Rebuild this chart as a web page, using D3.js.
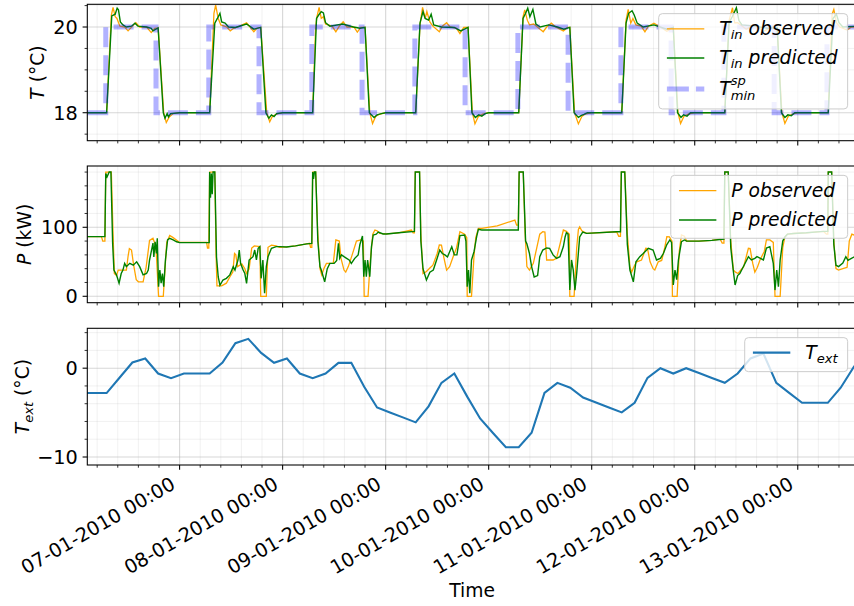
<!DOCTYPE html>
<html><head><meta charset="utf-8">
<script src="https://cdn.jsdelivr.net/npm/d3@7"></script>
<style>
body{margin:0;background:#fff}
svg{display:block}
text{font-family:"DejaVu Sans",sans-serif;fill:#000}
</style>
</head><body>
<svg id="chart" width="854" height="606"></svg>
<script>
// ---------------- DATA (hours since 06-01-2010 00:00) ----------------
const tinObserved = [
 [2.5,18],[7.0,18],[8.1,20.28],[8.5,20.46],[9.0,20.24],[9.4,20.2],[10.1,20.02],[11.2,20.0],[12.0,19.91],[13.0,20.02],[13.8,20.1],[14.7,20.0],[16.3,20.0],[17.4,19.87],[18.2,19.97],[19.0,19.98],[20.3,18.0],[20.9,17.77],[21.6,17.9],[22.5,17.98],[24.0,18.0],
 [31.0,18],[32.0,20.32],[32.4,20.51],[33.0,20.2],[33.6,20.05],[35.0,20.0],[35.8,19.91],[36.6,19.97],[38.0,20.02],[39.6,20.1],[40.4,20.0],[41.3,19.89],[42.0,19.97],[42.9,19.99],[44.3,18.0],[45.0,17.79],[45.6,17.91],[46.6,17.97],[48.0,18.0],
 [55.0,18],[55.7,20.0],[56.0,20.24],[56.5,20.46],[57.0,20.2],[57.5,20.24],[58.0,20.07],[59.5,20.02],[60.4,19.89],[61.2,20.02],[62.1,20.12],[63.0,20.0],[64.6,20.0],[65.4,19.88],[66.2,19.99],[67.2,19.99],[68.3,18.0],[68.95,17.75],[69.7,17.92],[70.7,17.97],[72.0,18.0],
 [79.0,18],[80.0,20.05],[80.6,20.46],[81.2,20.2],[81.6,20.36],[82.3,20.12],[83.0,20.02],[84.5,19.89],[85.2,20.02],[86.2,20.1],[87.0,20.0],[88.5,19.97],[89.3,19.85],[90.2,19.99],[91.2,19.99],[92.2,18.0],[92.8,17.74],[93.6,17.91],[94.6,17.97],[96.0,18.0],
 [103.0,18],[104.0,20.24],[104.4,20.4],[105.0,20.16],[105.5,20.05],[106.5,20.07],[107.5,19.99],[108.7,19.89],[109.5,20.0],[110.6,20.09],[111.6,20.0],[113.4,19.91],[114.4,19.99],[114.9,19.99],[116.0,18.0],[116.9,17.74],[117.7,17.91],[118.5,17.97],[120.0,18.0],
 [127.0,18],[128.0,20.16],[128.5,20.41],[129.1,20.09],[129.6,20.2],[130.3,20.05],[131.5,20.02],[132.4,19.89],[133.2,20.02],[134.5,20.09],[136.0,20.0],[137.5,19.9],[139.0,19.99],[140.1,18.0],[140.7,17.75],[141.5,17.92],[142.5,17.97],[144.0,18.0],
 [151.0,18],[152.0,20.15],[152.8,20.45],[153.3,20.1],[154.0,20.1],[156.0,19.95],[158.0,20.05],[160.0,19.9],[162.0,20.0],[163.2,19.99],[164.3,18.0],[165.0,17.75],[165.8,17.92],[166.8,17.97],[168.0,18.0],
 [175.1,18],[176.0,20.3],[176.4,20.41],[177.0,20.1],[177.8,20.0],[179.5,19.93],[180.5,20.0],[182.0,20.0]
];
const tinPredicted = [
 [2.5,18],[7.0,18],[8.2,20.26],[9.0,20.3],[9.45,20.44],[9.76,20.4],[10.2,20.12],[10.8,20.05],[11.6,20.0],[12.8,20.02],[13.6,20.09],[14.3,20.02],[16.3,20.0],[17.4,19.97],[17.8,19.91],[19.0,19.98],[20.2,18.0],[20.6,17.87],[21.1,17.98],[21.4,17.9],[21.9,17.98],[24.0,18.0],
 [31.0,18],[32.2,20.09],[32.8,20.2],[33.4,20.32],[33.8,20.12],[34.6,20.09],[35.4,20.0],[37.0,19.99],[39.6,20.07],[41.3,19.95],[42.9,19.99],[44.1,18.0],[44.8,17.87],[45.4,17.95],[46.0,17.91],[46.6,17.98],[48.0,18.0],
 [55.0,18],[55.9,20.2],[56.4,20.28],[57.0,20.36],[57.5,20.33],[58.0,20.1],[59.0,20.02],[62.0,20.07],[64.5,20.0],[66.0,19.97],[67.2,19.99],[68.2,18.0],[69.3,17.89],[70.0,17.95],[71.0,17.98],[72.0,18.0],
 [79.0,18],[80.0,20.09],[80.7,20.36],[81.2,20.2],[82.0,20.16],[82.6,20.3],[83.2,20.05],[85.0,20.0],[88.0,19.99],[89.5,19.91],[91.2,19.99],[92.1,18.0],[92.9,17.89],[93.7,17.95],[94.4,17.92],[95.2,17.98],[96.0,18.0],
 [103.0,18],[104.0,20.2],[104.6,20.32],[105.1,20.44],[105.6,20.24],[106.3,20.41],[107.0,20.07],[108.0,20.0],[110.0,20.05],[112.0,20.0],[113.5,19.95],[114.9,19.99],[115.9,18.0],[116.9,17.89],[117.5,17.93],[118.2,17.96],[119.0,18.0],
 [127.0,18],[128.0,20.09],[128.6,20.32],[129.4,20.38],[129.9,20.28],[130.6,20.09],[132.0,20.0],[134.5,20.05],[137.5,19.95],[139.0,19.99],[140.0,18.0],[140.8,17.89],[141.4,17.95],[142.2,17.92],[143.0,18.0],
 [151.0,18],[152.0,20.1],[152.8,20.25],[153.7,20.45],[154.3,20.15],[155.0,20.05],[158.0,20.02],[161.0,19.97],[163.2,19.99],[164.2,18.0],[165.0,17.89],[165.7,17.95],[166.5,17.93],[167.3,18.0],
 [175.1,18],[176.2,20.2],[177.0,20.3],[177.6,20.1],[178.5,20.0],[182.0,20.02]
];
const spHours  = [2.5,6.8,18.5,30.8,42.5,54.8,66.5,78.8,90.5,102.8,114.5,126.8,138.5,150.8,162.5,174.8,182];
const spValues = [18, 20, 18,  20,  18,  20,  18,  20,  18,  20,   18,   20,   18,   20,   18,   20,   20];

const pObserved = [
 [2.5,86.4],[5.8,86.4],[6.1,80],[6.6,80],[6.8,180],[8.1,180],[8.5,90],[8.8,33],[9.3,30],[9.7,38],[11.6,38],[12.0,58],[12.3,69],[12.8,67],[13.3,45],[13.9,24],[14.4,21],[15.5,21],[16.2,42],[17.0,81],[17.8,84],[18.5,72],[19.1,0],[20.2,0],[21.0,78],[21.7,88],[22.5,85],[24.0,78],[30.3,78],[30.5,70],[30.8,70],
 [31.0,180],[32.2,180],[32.5,60],[32.7,15],[33.8,15],[34.9,19],[35.7,28],[36.4,35],[36.8,62],[37.1,60],[37.5,43],[38.5,47],[39.2,40],[39.6,33],[40.2,40],[40.8,70],[41.4,73],[42.7,72],[42.9,0],[44.2,0],[44.6,71],[45.4,74],[46.5,73],[47.3,71],[48.9,71.5],[51.0,73],[53.6,76],[54.3,76.7],[54.5,71],[54.8,71],
 [55.0,180],[55.7,180],[56.2,90],[56.7,40],[57.1,31],[57.6,40],[58.2,47.7],[59.8,47.7],[60.4,81.6],[61.2,80],[61.6,55],[62.3,38],[62.7,35],[63.3,43],[64.2,60],[65.2,80],[66.4,82],[66.8,80],[67.0,0],[67.9,0],[68.4,50],[69.0,90],[69.5,96],[70.0,95],[70.6,91.2],[72.2,90.3],[75.0,92],[78.0,96],[78.4,92],[78.7,92],
 [78.9,180],[79.9,180],[80.2,90],[80.7,33],[81.5,36],[82.3,41],[83.0,45],[84.0,62],[84.5,74.3],[85.0,74],[85.6,55],[86.2,38],[86.9,43],[87.7,57],[88.5,70],[89.3,93.6],[90.4,90],[90.9,85],[91.0,0],[92.0,0],[92.6,60],[93.0,85],[93.6,98.5],[94.4,98.5],[98.0,102],[102.1,110.5],[102.5,103],[102.9,103],
 [103.1,180],[104.05,180],[104.5,90],[104.9,43],[105.5,38],[106.4,47.7],[107.2,70],[107.9,90],[108.6,93.6],[109.1,93],[109.5,52.6],[111.0,52.6],[111.8,55],[112.6,75],[113.4,96],[114.1,94],[114.8,90],[114.9,0],[115.9,0],[116.5,70],[116.9,97],[117.2,100.5],[117.7,95],[118.8,91.2],[125.8,93.5],[126.3,87],[126.7,87],
 [126.9,180],[127.7,180],[128.3,90],[128.9,43],[129.3,35],[130.0,45],[130.5,50],[131.6,52.6],[132.6,69.5],[133.0,69],[133.6,50],[134.3,40],[134.7,38],[135.5,50],[136.3,52],[137.0,70],[137.5,86.4],[138.1,86],[138.7,80],[138.8,0],[139.9,0],[140.4,65],[140.9,89],[141.6,87],[142.1,80],[145.0,80],[148.0,81],[149.9,83],[150.4,77],[150.8,77],
 [151.0,180],[151.8,180],[152.4,80],[153.0,38],[153.5,35],[154.1,33],[154.6,37],[155.4,43],[156.5,69.5],[156.9,69],[157.5,48],[158.0,35],[158.6,42],[159.2,52.6],[160.2,65],[160.7,81.6],[161.5,81.6],[162.3,78],[162.7,0],[163.9,0],[164.5,70],[165.0,86],[165.6,90],[167.0,91],[170.0,92],[174.0,94],[174.7,90],[175.0,90],
 [175.1,180],[175.9,180],[176.4,80],[176.9,40],[177.5,38],[178.5,40],[179.5,42],[180.0,80],[180.6,90],[181.5,88],[184.0,88]
];
const pPredicted = [
 [2.5,86.4],[6.6,86.4],[6.8,178],[7.1,173],[7.6,180],[8.0,180],[8.4,77],[8.7,38],[9.3,31],[9.9,19],[10.4,33],[10.8,38],[11.2,47.7],[11.6,42.9],[12.4,47.7],[13.2,45],[14.0,50],[14.7,42.9],[15.5,31],[16.3,33],[16.7,38],[17.0,52.6],[17.8,77],[18.0,57],[18.3,79],[18.6,62],[18.8,84],[19.1,14],[19.4,38],[19.7,19],[20.0,33],[20.3,14],[20.7,52.6],[21.2,81.6],[21.7,84],[22.5,81.6],[23.3,79],[24.0,77.7],[30.9,77.7],
 [31.0,180],[31.2,143],[31.4,178],[31.6,148],[31.8,180],[32.2,180],[32.6,57],[33.0,28],[33.4,16],[34.1,23.6],[34.9,26],[35.7,31],[36.5,43],[36.9,38],[37.6,52.6],[37.9,67],[38.2,47.7],[38.8,38],[39.2,33],[39.6,18.8],[40.2,52.6],[41.1,57.4],[41.5,67],[41.9,52.6],[42.3,69.5],[42.7,71.9],[43.0,26],[43.4,52.6],[43.8,4.3],[44.2,43],[44.6,57.4],[45.4,69.5],[46.5,71.9],[47.3,72],[48.9,71.5],[51.0,73],[53.6,76],[54.8,76.7],
 [55.0,180],[55.2,170],[55.4,180],[55.7,180],[56.2,80],[56.7,43],[57.0,38],[57.8,21],[58.4,40],[59.0,47.7],[60.0,47.7],[60.6,52],[61.0,76.7],[61.3,55],[61.7,60],[62.3,57.4],[62.9,55],[63.5,52.6],[64.0,47.7],[64.8,55],[65.6,60],[66.0,75],[66.6,87.4],[66.9,28.4],[67.2,52.6],[67.5,28.4],[67.8,52.6],[68.3,28.4],[68.7,72],[69.1,88.8],[69.8,90],[70.3,93],[71.4,90.3],[72.2,90.3],[75.0,92],[78.7,94],
 [78.9,180],[79.9,180],[80.2,80],[80.7,40],[81.5,23.6],[82.3,35],[83.1,38],[84.0,55],[84.6,67],[85.2,62],[85.8,60],[86.4,57],[87.4,71.9],[88.0,60],[88.6,60],[89.3,88],[90.4,88.7],[90.7,80],[91.0,14],[91.3,38],[91.6,4.3],[92.0,52.6],[92.6,65],[93.2,86.4],[93.6,97],[94.4,96.1],[98.0,96.1],[102.9,96.1],
 [103.1,180],[104.05,180],[104.6,80],[104.9,76],[105.5,62],[106.0,43],[106.6,28],[107.4,30],[107.9,57.4],[108.6,67],[109.5,70],[110.2,69.5],[111.0,60],[111.8,55],[112.6,57.4],[113.4,72],[113.8,86],[114.1,92],[114.5,90],[114.9,9],[115.3,52.6],[115.7,38],[116.1,9],[116.5,33],[117.2,86],[117.9,93],[118.8,91.2],[125.8,93.5],[126.7,93.5],
 [126.9,180],[127.7,180],[128.3,75],[128.9,38],[129.7,21],[130.3,50],[131.2,57.4],[132.0,62],[133.2,69.5],[134.3,67],[135.1,52.6],[136.0,55],[136.7,62],[137.5,75],[138.2,81.6],[138.6,78],[139.0,16.3],[139.4,38],[139.8,24],[140.2,52.6],[140.9,79],[141.6,81.6],[142.1,80],[145.0,80],[148.0,81],[150.8,83],
 [151.0,180],[151.8,180],[152.4,70],[153.0,36],[153.4,16.3],[154.0,30],[154.5,33],[155.5,45],[156.5,57.4],[157.2,52.6],[158.0,55],[158.5,57.4],[159.3,55],[160.0,52.6],[160.7,70],[161.5,72],[162.3,47.7],[162.7,9],[163.1,38],[163.5,14],[163.9,52.6],[164.5,80],[165.0,86],[165.6,90],[167.0,91],[170.0,92],[174.0,94],[175.0,94],
 [175.1,180],[175.9,180],[176.4,75],[176.9,45],[177.5,43],[178.5,48],[179.2,57.4],[179.7,52],[180.5,55],[181.5,58],[184.0,60]
];

const textHours  = [1,4,7,10,13,16,19,22,25,28,31,34,37,40,43,46,49,52,55,58,61,64,67,70,73,76,79,82,85,88,91,94,97,100,103,106,109,112,115,118,121,124,127,130,133,136,139,142,145,148,151,154,157,160,163,166,169,172,175,178,181,184];
const textValues = [-2.8,-2.8,-2.8,-1.08,0.64,1.09,-0.6,-1.12,-0.6,-0.6,-0.6,0.64,2.81,3.3,1.72,0.6,1.09,-0.6,-1.12,-0.6,0.6,0.6,-2.1,-4.42,-4.98,-5.54,-6.1,-4.3,-1.65,-0.6,-3.2,-5.66,-7.3,-8.9,-8.9,-7.27,-2.78,-1.65,-2.2,-3.3,-3.86,-4.42,-4.98,-3.9,-1.09,0,-0.6,0,-0.55,-1.1,-1.65,-0.6,1.1,1.65,-1.65,-2.78,-3.9,-3.9,-3.9,-2.2,0.1,2.0];

const yTicksT = [18,20],   yMinorT = [17.5,18.5,19,19.5,20.5];
const yTicksP = [0,100],   yMinorP = [20,40,60,80,120,140,160,180];
const yTicksE = [-10,0],   yMinorE = [-8,-6,-4,-2,2,4];

// ---------------- LAYOUT ----------------
const FS = 18.7;      // labels / legend
const TFS = 19.3;     // tick labels
const L = 87.3, R = 857;
const base = Date.UTC(2010,0,6,0,0);
const toDate = h => new Date(base + h*3600e3);
const x = d3.scaleUtc().domain([toDate(2.5), toDate(181.8)]).range([L, R]);
const fmt = d3.utcFormat("%d-%m-%Y %H:%M");
const svg = d3.select("#chart");
const defs = svg.append("defs");

const panels = [
  {id:"a", y0:4.3,   y1:140.7, dom:[17.347,20.53], major:yTicksT, minor:yMinorT},
  {id:"b", y0:166,   y1:302.7, dom:[-9.3,188.8],   major:yTicksP, minor:yMinorP},
  {id:"c", y0:328.3, y1:465,   dom:[-10.9,4.49],   major:yTicksE, minor:yMinorE}
];

const majorX = x.ticks(d3.utcDay.every(1));
const minorX = [];
const dStart = Date.UTC(2010,0,6), dayMs = 86400e3;
for (let dd = 0; dd < 9; dd++) for (let k = 1; k < 5; k++) {
  const t = new Date(dStart + dd*dayMs + k*dayMs/5);
  if (t >= x.domain()[0] && t <= x.domain()[1]) minorX.push(t);
}

panels.forEach(p => {
  p.y = d3.scaleLinear().domain(p.dom).range([p.y1, p.y0]);
  defs.append("clipPath").attr("id","clip"+p.id).append("rect")
    .attr("x",L).attr("y",p.y0).attr("width",R-L).attr("height",p.y1-p.y0);
  const g = svg.append("g");
  g.selectAll(".mgx").data(minorX).join("line")
    .attr("x1",d=>x(d)).attr("x2",d=>x(d)).attr("y1",p.y0).attr("y2",p.y1)
    .attr("stroke","#b0b0b0").attr("stroke-opacity",0.22).attr("stroke-width",0.8);
  g.selectAll(".mgy").data(p.minor).join("line")
    .attr("x1",L).attr("x2",R).attr("y1",d=>p.y(d)).attr("y2",d=>p.y(d))
    .attr("stroke","#b0b0b0").attr("stroke-opacity",0.22).attr("stroke-width",0.8);
  g.selectAll(".Mgx").data(majorX).join("line")
    .attr("x1",d=>x(d)).attr("x2",d=>x(d)).attr("y1",p.y0).attr("y2",p.y1)
    .attr("stroke","#b0b0b0").attr("stroke-opacity",0.5).attr("stroke-width",1.1);
  g.selectAll(".Mgy").data(p.major).join("line")
    .attr("x1",L).attr("x2",R).attr("y1",d=>p.y(d)).attr("y2",d=>p.y(d))
    .attr("stroke","#b0b0b0").attr("stroke-opacity",0.5).attr("stroke-width",1.1);
  p.plot = svg.append("g").attr("clip-path","url(#clip"+p.id+")");
});

function lineOf(p, curve) {
  const l = d3.line().x(d=>x(toDate(d[0]))).y(d=>p.y(d[1]));
  if (curve) l.curve(curve);
  return l;
}
const [pa, pb, pc] = panels;
pa.plot.append("path").attr("d", lineOf(pa)(tinObserved)).attr("fill","none").attr("stroke","#ffa500").attr("stroke-width",1.3);
pa.plot.append("path").attr("d", lineOf(pa)(tinPredicted)).attr("fill","none").attr("stroke","#008000").attr("stroke-width",1.4);
const spData = spHours.map((h,i)=>[h, spValues[i]]);
pa.plot.append("path").attr("d", lineOf(pa, d3.curveStepAfter)(spData)).attr("fill","none")
  .attr("stroke","rgba(0,0,255,0.3)").attr("stroke-width",5).attr("stroke-dasharray","20,8");

pb.plot.append("path").attr("d", lineOf(pb)(pObserved)).attr("fill","none").attr("stroke","#ffa500").attr("stroke-width",1.3);
pb.plot.append("path").attr("d", lineOf(pb)(pPredicted)).attr("fill","none").attr("stroke","#008000").attr("stroke-width",1.4);

const extData = textHours.map((h,i)=>[h, textValues[i]]);
pc.plot.append("path").attr("d", lineOf(pc)(extData)).attr("fill","none").attr("stroke","#1f77b4").attr("stroke-width",2.1);

// spines, ticks, labels
panels.forEach(p => {
  const g = svg.append("g");
  g.append("rect").attr("x",L).attr("y",p.y0).attr("width",R-L).attr("height",p.y1-p.y0)
    .attr("fill","none").attr("stroke","#000").attr("stroke-width",1.07);
  g.selectAll(".tx").data(majorX).join("line")
    .attr("x1",d=>x(d)).attr("x2",d=>x(d)).attr("y1",p.y1).attr("y2",p.y1+4.7)
    .attr("stroke","#000").attr("stroke-width",1.07);
  g.selectAll(".mtx").data(minorX).join("line")
    .attr("x1",d=>x(d)).attr("x2",d=>x(d)).attr("y1",p.y1).attr("y2",p.y1+2.7)
    .attr("stroke","#000").attr("stroke-width",0.8);
  g.selectAll(".ty").data(p.major).join("line")
    .attr("x1",L-4.7).attr("x2",L).attr("y1",d=>p.y(d)).attr("y2",d=>p.y(d))
    .attr("stroke","#000").attr("stroke-width",1.07);
  g.selectAll(".mty").data(p.minor).join("line")
    .attr("x1",L-2.7).attr("x2",L).attr("y1",d=>p.y(d)).attr("y2",d=>p.y(d))
    .attr("stroke","#000").attr("stroke-width",0.8);
  g.selectAll(".tyl").data(p.major).join("text")
    .attr("x",L-9.4).attr("y",d=>p.y(d)).attr("dy","0.36em")
    .attr("text-anchor","end").attr("font-size",TFS)
    .text(d => d < 0 ? "\u2212" + Math.abs(d) : String(d));
});

// x tick labels (bottom panel)
svg.append("g").selectAll("text").data(majorX).join("text")
  .attr("font-size",TFS).attr("text-anchor","end")
  .attr("transform", d => `translate(${x(d)-3},${pc.y1+9.4+13.5}) rotate(-30)`)
  .text(d => fmt(d));

svg.append("text").attr("x",(L+R)/2).attr("y",597).attr("text-anchor","middle")
  .attr("font-size",FS).text("Time");

// math-like text helper
function mathText(parent, x0, y0, parts, attrs) {
  const t = parent.append("text").attr("x",x0).attr("y",y0).attr("font-size",FS);
  if (attrs) Object.entries(attrs).forEach(([k,v])=>t.attr(k,v));
  let shift = 0, lastW = 0;
  parts.forEach(pt => {
    const ts = t.append("tspan").text(pt.t);
    if (pt.it) ts.attr("font-style","italic");
    let target = 0;
    if (pt.sub) target = pt.deep ? 0.22*FS : 0.2*FS;
    if (pt.sup) target = -0.55*FS;
    if (pt.sub || pt.sup) ts.attr("font-size", FS*0.7);
    ts.attr("dy", target - shift);
    shift = target;
    if (pt.back) ts.attr("dx", -lastW);
    lastW = ts.node().getComputedTextLength();
  });
  if (shift !== 0) t.append("tspan").attr("dy", -shift).text("");
  return t;
}

// y labels
mathText(svg, 0, 0, [{t:"T",it:true},{t:" (°C)"}], {"text-anchor":"middle","transform":`translate(44,${(pa.y0+pa.y1)/2}) rotate(-90)`});
mathText(svg, 0, 0, [{t:"P",it:true},{t:" (kW)"}], {"text-anchor":"middle","transform":`translate(31,${(pb.y0+pb.y1)/2}) rotate(-90)`});
mathText(svg, 0, 0, [{t:"T",it:true},{t:"ext",it:true,sub:true},{t:" (°C)"}], {"text-anchor":"middle","transform":`translate(29,${(pc.y0+pc.y1)/2}) rotate(-90)`});

// legends
function legend(p, entries, rowOffsets, extraBottom) {
  const g = svg.append("g");
  const boxR = R - 9.35, boxT = p.y0 + 9.35;
  const rect = g.append("rect");
  const texts = entries.map((e,i) => mathText(g, 0, boxT + rowOffsets[i] + 6.5, e.parts));
  const maxW = d3.max(texts, t => t.node().getComputedTextLength());
  const textX = boxR - 10 - maxW;
  texts.forEach(t => t.attr("x", textX));
  const boxL = textX - 15 - 37.4 - 8.2;
  const boxB = boxT + rowOffsets[rowOffsets.length-1] + extraBottom;
  rect.attr("x",boxL).attr("y",boxT).attr("width",boxR-boxL).attr("height",boxB-boxT)
    .attr("rx",3.7).attr("fill","rgba(255,255,255,0.8)").attr("stroke","#cccccc").attr("stroke-width",1);
  entries.forEach((e,i) => {
    const ln = g.insert("line","text").attr("x1",boxL+8.2).attr("x2",boxL+8.2+37.4)
      .attr("y1",boxT+rowOffsets[i]).attr("y2",boxT+rowOffsets[i])
      .attr("stroke",e.color).attr("stroke-width",e.w);
    if (e.dash) ln.attr("stroke-dasharray",e.dash);
  });
}
legend(pa, [
  {parts:[{t:"T",it:true},{t:"in",it:true,sub:true},{t:" observed",it:true}], color:"#ffa500", w:1.3},
  {parts:[{t:"T",it:true},{t:"in",it:true,sub:true},{t:" predicted",it:true}], color:"#008000", w:1.4},
  {parts:[{t:"T",it:true},{t:"sp",it:true,sup:true},{t:"min",it:true,sub:true,deep:true,back:true}], color:"rgba(0,0,255,0.3)", w:5, dash:"22,7"}
], [15.3, 44.3, 75.3], 20);
legend(pb, [
  {parts:[{t:"P observed",it:true}], color:"#ffa500", w:1.3},
  {parts:[{t:"P predicted",it:true}], color:"#008000", w:1.4}
], [15.3, 44.6], 18.3);
legend(pc, [
  {parts:[{t:"T",it:true},{t:"ext",it:true,sub:true}], color:"#1f77b4", w:2.1}
], [15], 19);
</script>
</body></html>
